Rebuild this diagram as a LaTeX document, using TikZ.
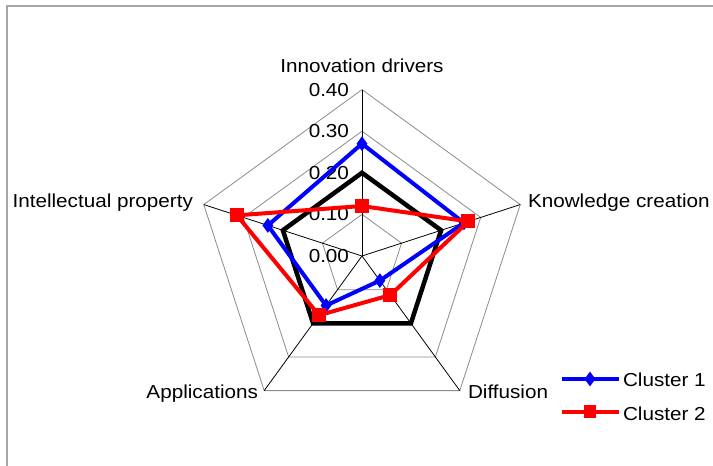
\documentclass[tikz,border=0pt]{standalone}
\usepackage{fontspec}
\setmainfont{Liberation Sans}
\usetikzlibrary{shapes.geometric,calc}
\tikzset{
  lbl/.style={inner sep=0pt, outer sep=0pt, xscale=1.1, font=\fontsize{18.8}{22}\selectfont},
  gridline/.style={draw=black!45, line width=0.8pt},
  spoke/.style={draw=black, line width=0.8pt},
  serblack/.style={draw=black, line width=4.5pt, line join=miter},
  serblue/.style={draw=blue, line width=4pt, line join=round},
  serred/.style={draw=red, line width=4pt, line join=round},
  bmark/.style={diamond, fill=blue, inner sep=0pt, minimum width=11pt, minimum height=15pt},
  rmark/.style={rectangle, fill=red, inner sep=0pt, minimum size=14pt},
  frame/.style={draw=black!35, line width=2pt}
}
\begin{document}
\begin{tikzpicture}[x=1pt,y=1pt]
\useasboundingbox (0,-466) rectangle (713,0);
\fill[white] (0,-466) rectangle (713,0);
\draw[frame] (7,-466) -- (7,-6) -- (713,-6);
\coordinate (C) at (362,-256);
% grid rings
\foreach \r in {41.6,83.2,124.8,166.4}{
  \draw[gridline] ($(C)+(90:\r)$) -- ($(C)+(18:\r)$) -- ($(C)+(-54:\r)$) -- ($(C)+(-126:\r)$) -- ($(C)+(162:\r)$) -- cycle;
}
% axis end points
\foreach \a/\n in {90/ID,18/KC,-54/DI,-126/AP,162/IP}{
  \coordinate (\n) at ($(C)+(\a:166.4)$);
  \draw[spoke] (C) -- (\n);
}
% axis labels
\node[lbl, anchor=base] (tID) at (362,-72.7) {Innovation drivers};
\node[lbl, anchor=base west] (tKC) at (528,-207) {Knowledge creation};
\node[lbl, anchor=base east] (tIP) at (193,-207.3) {Intellectual property};
\node[lbl, anchor=base east] (tAP) at (258,-398) {Applications};
\node[lbl, anchor=base west] (tDI) at (468,-398) {Diffusion};
% tick labels
\node[lbl, anchor=east] (v0) at (349,-256) {0.00};
\node[lbl, anchor=east] (v1) at (349,-214.4) {0.10};
\node[lbl, anchor=east] (v2) at (349,-172.8) {0.20};
\node[lbl, anchor=east] (v3) at (349,-131.2) {0.30};
\node[lbl, anchor=east] (v4) at (349,-89.6) {0.40};
% series coordinates (416 pt per unit)
\coordinate (k1) at ($(C)+(90:83.2)$);
\coordinate (k2) at ($(C)+(18:83.2)$);
\coordinate (k3) at ($(C)+(-54:83.2)$);
\coordinate (k4) at ($(C)+(-126:83.2)$);
\coordinate (k5) at ($(C)+(162:83.2)$);
\coordinate (b1) at ($(C)+(90:112.3)$);
\coordinate (b2) at ($(C)+(18:107.2)$);
\coordinate (b3) at ($(C)+(-54:30.4)$);
\coordinate (b4) at ($(C)+(-126:61.2)$);
\coordinate (b5) at ($(C)+(162:99.0)$);
\coordinate (r1) at ($(C)+(90:50.0)$);
\coordinate (r2) at ($(C)+(18:111.8)$);
\coordinate (r3) at ($(C)+(-54:48.3)$);
\coordinate (r4) at ($(C)+(-126:73.2)$);
\coordinate (r5) at ($(C)+(162:131.5)$);
\draw[serblack] (k1) -- (k2) -- (k3) -- (k4) -- (k5) -- cycle;
\draw[serblue] (b1) -- (b2) -- (b3) -- (b4) -- (b5) -- cycle;
\foreach \p in {b1,b2,b3,b4,b5}{\node[bmark] at (\p) {};}
\draw[serred] (r1) -- (r2) -- (r3) -- (r4) -- (r5) -- cycle;
\foreach \p in {r1,r2,r3,r4,r5}{\node[rmark] at (\p) {};}
% legend
\coordinate (lb1) at (561.7,-379);
\coordinate (lb2) at (619,-379);
\draw[serblue] (lb1) -- (lb2);
\node[bmark] (mb) at (590,-379) {};
\node[lbl, anchor=base west] (c1) at (623,-386.7) {Cluster 1};
\coordinate (lr1) at (561.7,-411.7);
\coordinate (lr2) at (619,-411.7);
\draw[serred] (lr1) -- (lr2);
\node[rmark, minimum size=12.5pt] (mr) at (590,-411.7) {};
\node[lbl, anchor=base west] (c2) at (623,-420) {Cluster 2};
\end{tikzpicture}
\end{document}
